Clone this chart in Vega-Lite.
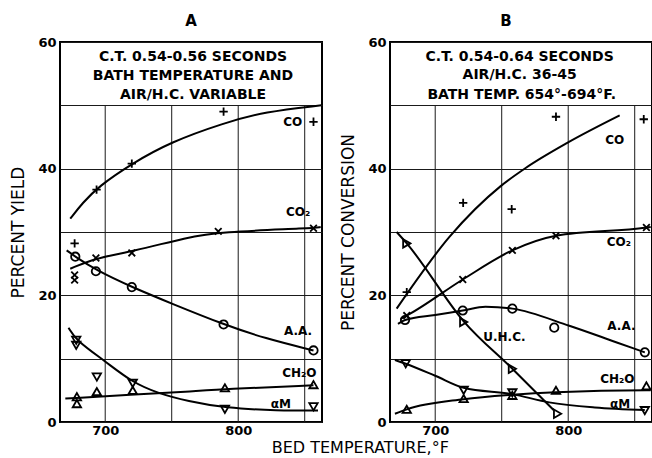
{
  "$schema": "https://vega.github.io/schema/vega-lite/v6.json",
  "background": "white",
  "padding": {"left": 8, "top": 13, "right": 0, "bottom": 0},
  "spacing": 11,
  "title": {"text": "BED TEMPERATURE,°F", "orient": "bottom", "anchor": "middle", "fontSize": 16, "fontWeight": "normal", "font": "DejaVu Sans", "color": "black", "offset": 2, "dx": 28},
  "config": {
    "view": {"stroke": "black", "strokeWidth": 2},
    "font": "DejaVu Sans",
    "axis": {"domain": false, "ticks": false, "labelFont": "DejaVu Sans", "labelFontSize": 13, "labelFontWeight": "bold", "labelColor": "black", "titleFont": "DejaVu Sans", "titleFontSize": 17, "titleFontWeight": "normal", "titleColor": "black", "gridColor": "#1a1a1a", "gridOpacity": 1, "gridWidth": 1},
    "axisY": {"labelPadding": 4, "titlePadding": 10},
    "axisX": {"labelPadding": 2},
    "title": {"font": "DejaVu Sans", "fontSize": 15, "fontWeight": "bold", "color": "black", "offset": 7}
  },
  "datasets": {
    "vgrid": [{"t": 700}, {"t": 750}, {"t": 800}, {"t": 850}],
    "pts": [
      {"p": "A", "sp": "CO", "t": 677, "v": 28.2},
      {"p": "A", "sp": "CO", "t": 693.5, "v": 36.7},
      {"p": "A", "sp": "CO", "t": 720, "v": 40.8},
      {"p": "A", "sp": "CO", "t": 789, "v": 49.0},
      {"p": "A", "sp": "CO", "t": 856.6, "v": 47.4},
      {"p": "A", "sp": "CO2", "t": 677, "v": 23.2},
      {"p": "A", "sp": "CO2", "t": 677, "v": 22.4},
      {"p": "A", "sp": "CO2", "t": 693, "v": 25.9},
      {"p": "A", "sp": "CO2", "t": 720, "v": 26.7},
      {"p": "A", "sp": "CO2", "t": 785, "v": 30.1},
      {"p": "A", "sp": "CO2", "t": 856.6, "v": 30.6},
      {"p": "A", "sp": "AA", "t": 677.5, "v": 26.1},
      {"p": "A", "sp": "AA", "t": 693, "v": 23.8},
      {"p": "A", "sp": "AA", "t": 720, "v": 21.3},
      {"p": "A", "sp": "AA", "t": 789, "v": 15.4},
      {"p": "A", "sp": "AA", "t": 856.6, "v": 11.3},
      {"p": "A", "sp": "CH2O", "t": 678.7, "v": 4.0},
      {"p": "A", "sp": "CH2O", "t": 678.7, "v": 2.9},
      {"p": "A", "sp": "CH2O", "t": 693.7, "v": 4.8},
      {"p": "A", "sp": "CH2O", "t": 720.7, "v": 5.0},
      {"p": "A", "sp": "CH2O", "t": 790, "v": 5.4},
      {"p": "A", "sp": "CH2O", "t": 856.6, "v": 5.9},
      {"p": "A", "sp": "aM", "t": 678.2, "v": 12.9},
      {"p": "A", "sp": "aM", "t": 678.2, "v": 12.1},
      {"p": "A", "sp": "aM", "t": 693.7, "v": 7.1},
      {"p": "A", "sp": "aM", "t": 720.7, "v": 6.1},
      {"p": "A", "sp": "aM", "t": 790, "v": 2.0},
      {"p": "A", "sp": "aM", "t": 856.6, "v": 2.4},
      {"p": "B", "sp": "CO", "t": 678.6, "v": 20.5},
      {"p": "B", "sp": "CO", "t": 721, "v": 34.6},
      {"p": "B", "sp": "CO", "t": 757.5, "v": 33.6},
      {"p": "B", "sp": "CO", "t": 790.8, "v": 48.2},
      {"p": "B", "sp": "CO", "t": 856.8, "v": 47.8},
      {"p": "B", "sp": "CO2", "t": 678.6, "v": 16.8},
      {"p": "B", "sp": "CO2", "t": 720.7, "v": 22.5},
      {"p": "B", "sp": "CO2", "t": 758, "v": 27.1},
      {"p": "B", "sp": "CO2", "t": 790.8, "v": 29.4},
      {"p": "B", "sp": "CO2", "t": 858.8, "v": 30.7},
      {"p": "B", "sp": "AA", "t": 677.3, "v": 16.1},
      {"p": "B", "sp": "AA", "t": 720.7, "v": 17.6},
      {"p": "B", "sp": "AA", "t": 758, "v": 17.9},
      {"p": "B", "sp": "AA", "t": 789.5, "v": 14.9},
      {"p": "B", "sp": "AA", "t": 857.6, "v": 11.0},
      {"p": "B", "sp": "UHC", "t": 678.6, "v": 28.2},
      {"p": "B", "sp": "UHC", "t": 721.4, "v": 15.8},
      {"p": "B", "sp": "UHC", "t": 758, "v": 8.4},
      {"p": "B", "sp": "UHC", "t": 792, "v": 1.3},
      {"p": "B", "sp": "aM", "t": 677.8, "v": 9.2},
      {"p": "B", "sp": "aM", "t": 721.4, "v": 5.0},
      {"p": "B", "sp": "aM", "t": 758, "v": 4.6},
      {"p": "B", "sp": "aM", "t": 857.6, "v": 1.8},
      {"p": "B", "sp": "CH2O", "t": 678.6, "v": 2.0},
      {"p": "B", "sp": "CH2O", "t": 721.4, "v": 3.7},
      {"p": "B", "sp": "CH2O", "t": 758, "v": 4.2},
      {"p": "B", "sp": "CH2O", "t": 790.8, "v": 5.0},
      {"p": "B", "sp": "CH2O", "t": 858.8, "v": 5.7}
    ],
    "curves": [
      {"p": "A", "sp": "CO", "t": 673.7, "v": 32.1},
      {"p": "A", "sp": "CO", "t": 683, "v": 34.6},
      {"p": "A", "sp": "CO", "t": 695, "v": 37.2},
      {"p": "A", "sp": "CO", "t": 720, "v": 40.8},
      {"p": "A", "sp": "CO", "t": 749, "v": 44.2},
      {"p": "A", "sp": "CO", "t": 789, "v": 47.2},
      {"p": "A", "sp": "CO", "t": 820, "v": 49.0},
      {"p": "A", "sp": "CO", "t": 862.5, "v": 50.0},
      {"p": "A", "sp": "CO2", "t": 673.7, "v": 24.2},
      {"p": "A", "sp": "CO2", "t": 693, "v": 25.9},
      {"p": "A", "sp": "CO2", "t": 720, "v": 26.9},
      {"p": "A", "sp": "CO2", "t": 762.6, "v": 29.2},
      {"p": "A", "sp": "CO2", "t": 785, "v": 30.0},
      {"p": "A", "sp": "CO2", "t": 856.6, "v": 30.6},
      {"p": "A", "sp": "CO2", "t": 862, "v": 30.8},
      {"p": "A", "sp": "AA", "t": 671, "v": 27.1},
      {"p": "A", "sp": "AA", "t": 677.5, "v": 26.1},
      {"p": "A", "sp": "AA", "t": 693, "v": 24.0},
      {"p": "A", "sp": "AA", "t": 720, "v": 21.3},
      {"p": "A", "sp": "AA", "t": 750, "v": 18.7},
      {"p": "A", "sp": "AA", "t": 789, "v": 15.4},
      {"p": "A", "sp": "AA", "t": 820, "v": 13.2},
      {"p": "A", "sp": "AA", "t": 856.6, "v": 11.3},
      {"p": "A", "sp": "CH2O", "t": 670, "v": 3.7},
      {"p": "A", "sp": "CH2O", "t": 720, "v": 4.3},
      {"p": "A", "sp": "CH2O", "t": 762.6, "v": 4.8},
      {"p": "A", "sp": "CH2O", "t": 790, "v": 5.2},
      {"p": "A", "sp": "CH2O", "t": 856.6, "v": 5.8},
      {"p": "A", "sp": "aM", "t": 672.4, "v": 14.9},
      {"p": "A", "sp": "aM", "t": 678, "v": 12.9},
      {"p": "A", "sp": "aM", "t": 700, "v": 9.6},
      {"p": "A", "sp": "aM", "t": 720, "v": 6.3},
      {"p": "A", "sp": "aM", "t": 740, "v": 4.5},
      {"p": "A", "sp": "aM", "t": 762, "v": 3.3},
      {"p": "A", "sp": "aM", "t": 790, "v": 2.2},
      {"p": "A", "sp": "aM", "t": 830, "v": 1.8},
      {"p": "A", "sp": "aM", "t": 860, "v": 1.8},
      {"p": "B", "sp": "CO", "t": 671, "v": 17.9},
      {"p": "B", "sp": "CO", "t": 711, "v": 29.3},
      {"p": "B", "sp": "CO", "t": 749, "v": 37.2},
      {"p": "B", "sp": "CO", "t": 768, "v": 40.1},
      {"p": "B", "sp": "CO", "t": 799.6, "v": 44.1},
      {"p": "B", "sp": "CO", "t": 838.7, "v": 48.4},
      {"p": "B", "sp": "CO2", "t": 674, "v": 16.3},
      {"p": "B", "sp": "CO2", "t": 678.6, "v": 16.8},
      {"p": "B", "sp": "CO2", "t": 720.7, "v": 22.5},
      {"p": "B", "sp": "CO2", "t": 758, "v": 27.1},
      {"p": "B", "sp": "CO2", "t": 790.8, "v": 29.4},
      {"p": "B", "sp": "CO2", "t": 858.8, "v": 30.7},
      {"p": "B", "sp": "CO2", "t": 862, "v": 30.8},
      {"p": "B", "sp": "AA", "t": 672, "v": 15.5},
      {"p": "B", "sp": "AA", "t": 677.3, "v": 16.1},
      {"p": "B", "sp": "AA", "t": 700, "v": 16.9},
      {"p": "B", "sp": "AA", "t": 720.7, "v": 17.6},
      {"p": "B", "sp": "AA", "t": 737.8, "v": 18.2},
      {"p": "B", "sp": "AA", "t": 758, "v": 17.9},
      {"p": "B", "sp": "AA", "t": 800.8, "v": 15.2},
      {"p": "B", "sp": "AA", "t": 836, "v": 12.6},
      {"p": "B", "sp": "AA", "t": 857.6, "v": 11.0},
      {"p": "B", "sp": "UHC", "t": 671, "v": 30.0},
      {"p": "B", "sp": "UHC", "t": 678.6, "v": 28.2},
      {"p": "B", "sp": "UHC", "t": 721.4, "v": 15.9},
      {"p": "B", "sp": "UHC", "t": 758, "v": 8.4},
      {"p": "B", "sp": "UHC", "t": 789, "v": 1.9},
      {"p": "B", "sp": "aM", "t": 669.7, "v": 9.8},
      {"p": "B", "sp": "aM", "t": 677.8, "v": 9.2},
      {"p": "B", "sp": "aM", "t": 700, "v": 7.3},
      {"p": "B", "sp": "aM", "t": 721.4, "v": 5.4},
      {"p": "B", "sp": "aM", "t": 758, "v": 4.4},
      {"p": "B", "sp": "aM", "t": 785.7, "v": 3.1},
      {"p": "B", "sp": "aM", "t": 820, "v": 2.3},
      {"p": "B", "sp": "aM", "t": 857.6, "v": 1.9},
      {"p": "B", "sp": "CH2O", "t": 669.7, "v": 1.3},
      {"p": "B", "sp": "CH2O", "t": 678.6, "v": 2.0},
      {"p": "B", "sp": "CH2O", "t": 721.4, "v": 3.6},
      {"p": "B", "sp": "CH2O", "t": 758, "v": 4.3},
      {"p": "B", "sp": "CH2O", "t": 790.8, "v": 4.7},
      {"p": "B", "sp": "CH2O", "t": 858.8, "v": 5.0},
      {"p": "B", "sp": "CH2O", "t": 862, "v": 5.0}
    ],
    "labs": [
      {"p": "A", "txt": "CO", "t": 841, "v": 47.4},
      {"p": "A", "txt": "CO₂", "t": 845, "v": 33.2},
      {"p": "A", "txt": "A.A.", "t": 845, "v": 14.3},
      {"p": "A", "txt": "CH₂O", "t": 846, "v": 7.8},
      {"p": "A", "txt": "αM", "t": 832, "v": 2.9},
      {"p": "B", "txt": "CO", "t": 835, "v": 44.6},
      {"p": "B", "txt": "CO₂", "t": 838, "v": 28.5},
      {"p": "B", "txt": "A.A.", "t": 840, "v": 15.2},
      {"p": "B", "txt": "CH₂O", "t": 837, "v": 6.8},
      {"p": "B", "txt": "αM", "t": 839, "v": 2.9},
      {"p": "B", "txt": "U.H.C.", "t": 752, "v": 13.4}
    ],
    "notes": [
      {"p": "A", "txt": "C.T. 0.54-0.56 SECONDS", "t": 766, "v": 57.6},
      {"p": "A", "txt": "BATH TEMPERATURE AND", "t": 766, "v": 54.6},
      {"p": "A", "txt": "AIR/H.C. VARIABLE", "t": 766, "v": 51.6},
      {"p": "B", "txt": "C.T. 0.54-0.64 SECONDS", "t": 763.5, "v": 57.6},
      {"p": "B", "txt": "AIR/H.C. 36-45", "t": 763.5, "v": 54.8},
      {"p": "B", "txt": "BATH TEMP. 654°-694°F.", "t": 765, "v": 51.7}
    ]
  },
  "hconcat": [
    {
      "width": 262,
      "height": 380,
      "title": {"text": "A"},
      "layer": [
        {
          "data": {"name": "vgrid"},
          "mark": {"type": "rule", "color": "#1a1a1a", "strokeWidth": 1},
          "encoding": {
            "x": {"field": "t", "type": "quantitative", "title": null, "scale": {"domain": [666, 863], "nice": false, "zero": false}, "axis": {"values": [700, 750, 800, 850], "grid": false, "labelExpr": "datum.value % 100 === 0 ? datum.label : ''"}},
            "y": {"datum": 0, "type": "quantitative", "title": "PERCENT YIELD", "scale": {"domain": [0, 60], "nice": false}, "axis": {"values": [0, 10, 20, 30, 40, 50, 60], "grid": true, "labelExpr": "datum.value % 20 === 0 ? datum.label : ''"}},
            "y2": {"datum": 50}
          }
        },
        {
          "data": {"name": "curves"},
          "transform": [{"filter": "datum.p === 'A'"}],
          "mark": {"type": "line", "interpolate": "basis", "color": "black", "strokeWidth": 2},
          "encoding": {
            "x": {"field": "t", "type": "quantitative", "title": null},
            "y": {"field": "v", "type": "quantitative", "title": "PERCENT YIELD"},
            "detail": {"field": "sp"}
          }
        },
        {
          "data": {"name": "pts"},
          "transform": [{"filter": "datum.p === 'A'"}],
          "mark": {"type": "point", "filled": false, "color": "black", "strokeWidth": 1.8, "opacity": 1},
          "encoding": {
            "x": {"field": "t", "type": "quantitative", "title": null},
            "y": {"field": "v", "type": "quantitative", "title": "PERCENT YIELD"},
            "shape": {"field": "sp", "type": "nominal", "legend": null, "scale": {"domain": ["CO", "CO2", "AA", "CH2O", "aM", "UHC"], "range": ["M-1,0L1,0M0,-1L0,1", "M-0.8,-0.8L0.8,0.8M-0.8,0.8L0.8,-0.8", "circle", "triangle-up", "triangle-down", "triangle-right"]}},
            "size": {"field": "sp", "type": "nominal", "legend": null, "scale": {"domain": ["CO", "CO2", "AA", "CH2O", "aM", "UHC"], "range": [70, 70, 100, 90, 90, 90]}}
          }
        },
        {
          "data": {"name": "labs"},
          "transform": [{"filter": "datum.p === 'A'"}],
          "mark": {"type": "text", "font": "DejaVu Sans", "fontSize": 12, "fontWeight": "bold", "color": "black", "align": "center", "baseline": "middle"},
          "encoding": {
            "x": {"field": "t", "type": "quantitative", "title": null},
            "y": {"field": "v", "type": "quantitative", "title": "PERCENT YIELD"},
            "text": {"field": "txt"}
          }
        },
        {
          "data": {"name": "notes"},
          "transform": [{"filter": "datum.p === 'A'"}],
          "mark": {"type": "text", "font": "DejaVu Sans", "fontSize": 14, "fontWeight": "bold", "color": "black", "align": "center", "baseline": "middle"},
          "encoding": {
            "x": {"field": "t", "type": "quantitative", "title": null},
            "y": {"field": "v", "type": "quantitative", "title": "PERCENT YIELD"},
            "text": {"field": "txt"}
          }
        }
      ]
    },
    {
      "width": 262,
      "height": 380,
      "title": {"text": "B", "dx": -15},
      "layer": [
        {
          "data": {"name": "vgrid"},
          "mark": {"type": "rule", "color": "#1a1a1a", "strokeWidth": 1},
          "encoding": {
            "x": {"field": "t", "type": "quantitative", "title": null, "scale": {"domain": [666, 863], "nice": false, "zero": false}, "axis": {"values": [700, 750, 800, 850], "grid": false, "labelExpr": "datum.value % 100 === 0 ? datum.label : ''"}},
            "y": {"datum": 0, "type": "quantitative", "title": "PERCENT CONVERSION", "scale": {"domain": [0, 60], "nice": false}, "axis": {"values": [0, 10, 20, 30, 40, 50, 60], "grid": true, "labelExpr": "datum.value % 20 === 0 ? datum.label : ''"}},
            "y2": {"datum": 50}
          }
        },
        {
          "data": {"name": "curves"},
          "transform": [{"filter": "datum.p === 'B'"}],
          "mark": {"type": "line", "interpolate": "monotone", "color": "black", "strokeWidth": 2},
          "encoding": {
            "x": {"field": "t", "type": "quantitative", "title": null},
            "y": {"field": "v", "type": "quantitative", "title": "PERCENT CONVERSION"},
            "detail": {"field": "sp"}
          }
        },
        {
          "data": {"name": "pts"},
          "transform": [{"filter": "datum.p === 'B'"}],
          "mark": {"type": "point", "filled": false, "color": "black", "strokeWidth": 1.8, "opacity": 1},
          "encoding": {
            "x": {"field": "t", "type": "quantitative", "title": null},
            "y": {"field": "v", "type": "quantitative", "title": "PERCENT CONVERSION"},
            "shape": {"field": "sp", "type": "nominal", "legend": null, "scale": {"domain": ["CO", "CO2", "AA", "CH2O", "aM", "UHC"], "range": ["M-1,0L1,0M0,-1L0,1", "M-0.8,-0.8L0.8,0.8M-0.8,0.8L0.8,-0.8", "circle", "triangle-up", "triangle-down", "triangle-right"]}},
            "size": {"field": "sp", "type": "nominal", "legend": null, "scale": {"domain": ["CO", "CO2", "AA", "CH2O", "aM", "UHC"], "range": [70, 70, 100, 90, 90, 90]}}
          }
        },
        {
          "data": {"name": "labs"},
          "transform": [{"filter": "datum.p === 'B'"}],
          "mark": {"type": "text", "font": "DejaVu Sans", "fontSize": 12, "fontWeight": "bold", "color": "black", "align": "center", "baseline": "middle"},
          "encoding": {
            "x": {"field": "t", "type": "quantitative", "title": null},
            "y": {"field": "v", "type": "quantitative", "title": "PERCENT CONVERSION"},
            "text": {"field": "txt"}
          }
        },
        {
          "data": {"name": "notes"},
          "transform": [{"filter": "datum.p === 'B'"}],
          "mark": {"type": "text", "font": "DejaVu Sans", "fontSize": 14, "fontWeight": "bold", "color": "black", "align": "center", "baseline": "middle"},
          "encoding": {
            "x": {"field": "t", "type": "quantitative", "title": null},
            "y": {"field": "v", "type": "quantitative", "title": "PERCENT CONVERSION"},
            "text": {"field": "txt"}
          }
        }
      ]
    }
  ]
}
